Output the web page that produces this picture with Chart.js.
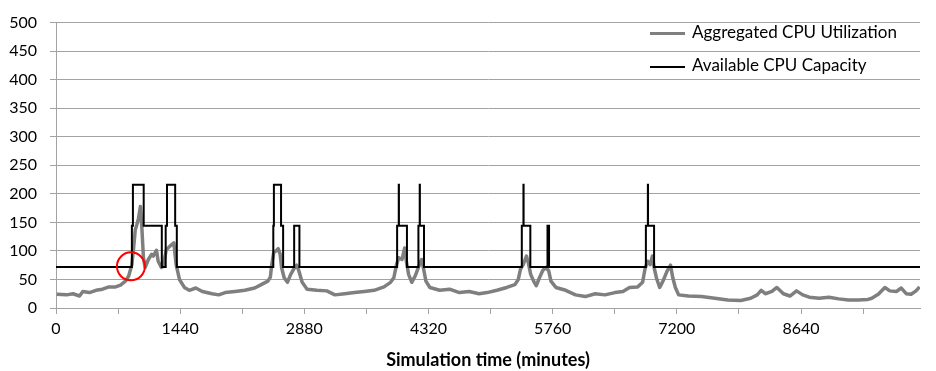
<!DOCTYPE html>
<html><head><meta charset="utf-8">
<script src="https://cdn.jsdelivr.net/npm/chart.js@4.4.1/dist/chart.umd.min.js"></script>
<style>
html,body{margin:0;padding:0;background:#fff;overflow:hidden;}
#wrap{position:relative;width:936px;height:371px;}
canvas{display:block;}
.lg{position:absolute;left:650px;font-family:Lato,sans-serif;font-size:17px;color:#000;white-space:nowrap;line-height:20px;}
.lg .sw{display:inline-block;width:35px;height:0;vertical-align:middle;margin-right:7px;}
</style></head><body>
<div id="wrap"><canvas id="c" width="936" height="371"></canvas></div>
<script>
// ---- data ----
const seriesNames = ['Aggregated CPU Utilization', 'Available CPU Capacity'];
const utilMinutes = [8,122,197,273,311,387,464,539,615,691,748,805,843,880,900,919,937,957,979,994,1014,1033,1071,1108,1128,1165,1185,1222,1241,1279,1318,1367,1393,1432,1489,1546,1621,1697,1811,1887,1962,2076,2190,2304,2380,2457,2486,2502,2525,2551,2577,2600,2616,2646,2684,2722,2760,2790,2817,2855,2912,3026,3140,3235,3349,3462,3576,3690,3804,3880,3918,3949,3975,4013,4043,4063,4089,4126,4165,4203,4240,4260,4290,4336,4450,4564,4678,4792,4906,5000,5114,5228,5322,5361,5387,5418,5456,5478,5505,5539,5569,5607,5646,5683,5714,5740,5797,5911,6025,6139,6253,6367,6481,6575,6651,6746,6803,6830,6860,6891,6917,6936,6963,7001,7039,7088,7127,7153,7183,7221,7335,7486,7639,7790,7942,8056,8132,8178,8227,8303,8360,8436,8512,8588,8660,8736,8850,8964,9078,9189,9303,9417,9461,9536,9613,9670,9746,9803,9860,9917,9974,10015];
const utilValues = [24,23,25,21,29,27,31,33,37,37,40,47,56,76,105,137,146,157,178,146,88,71,85,94,91,101,82,71,73,102,108,114,76,50,36,31,35,29,25,23,27,29,31,35,41,47,54,76,97,100,104,94,71,53,45,59,69,75,65,45,33,31,30,23,25,27,29,31,37,45,53,76,88,85,105,82,59,45,56,71,85,71,47,36,31,33,27,29,25,27,31,36,41,50,68,76,91,79,59,47,39,53,66,71,65,47,36,31,23,20,25,23,27,29,36,37,45,68,82,76,91,71,53,36,47,65,75,53,36,23,21,20,17,14,13,17,23,31,25,29,36,25,21,30,23,19,17,19,16,14,14,15,17,24,36,30,29,35,25,24,30,37];
const capMinutes = [0,880,892,1017,1227,1272,1287,1382,1401,2520,2527,2610,2634,2762,2823,3956,3975,3977,4070,4203,4218,4220,4268,5402,5421,5423,5501,5700,5718,6841,6864,6866,6936,10020];
const capValues  = [72,144,216,144,72,144,216,144,72,144,216,144,72,144,72,144,216,144,72,144,216,144,72,144,216,144,72,144,72,144,216,144,72,72];
const markMinutes = [869];
const markValues = [73];
const xTickValues = [0,720,1440,2160,2880,3600,4320,5040,5760,6480,7200,7920,8640,9360];
const xTickLabels = ['0','','1440','','2880','','4320','','5760','','7200','','8640',''];
const yTickValues = [0,50,100,150,200,250,300,350,400,450,500];
const xTitle = 'Simulation time (minutes)';

// ---- chart ----
const toXY = (xs, ys) => xs.map((x, i) => ({x: x, y: ys[i]}));
const gridCol = '#a3a3a3';
const fontFam = 'Lato, sans-serif';

new Chart(document.getElementById('c'), {
  type: 'line',
  data: {
    datasets: [
      {label: 'mark', data: toXY(markMinutes, markValues), showLine: false, pointRadius: 14,
       pointBorderColor: '#ff0000', pointBackgroundColor: 'rgba(0,0,0,0)', pointBorderWidth: 2, order: 0},
      {label: seriesNames[1], data: toXY(capMinutes, capValues), borderColor: '#000', borderWidth: 2,
       stepped: true, pointRadius: 0, fill: false, order: 1},
      {label: seriesNames[0], data: toXY(utilMinutes, utilValues), borderColor: '#7f7f7f', borderWidth: 3.5,
       pointRadius: 0, tension: 0, fill: false, order: 2, borderJoinStyle: 'round'}
    ]
  },
  options: {
    responsive: false, animation: false, devicePixelRatio: 1,
    layout: {padding: {top: 20, left: 0, right: 0, bottom: 0}},
    plugins: {legend: {display: false}, tooltip: {enabled: false}},
    scales: {
      x: {
        type: 'linear', min: 0, max: 10020,
        afterBuildTicks: s => { s.ticks = xTickValues.map(v => ({value: v})); },
        afterFit: s => { s.height = 63; },
        ticks: {autoSkip: false, maxRotation: 0, padding: 5, color: '#000',
                font: {family: fontFam, size: 16},
                callback: (v, i) => xTickLabels[i]},
        grid: {drawOnChartArea: false, drawTicks: true, tickLength: 6, color: gridCol},
        border: {display: true, color: gridCol, width: 1},
        title: {display: true, text: xTitle, color: '#000', font: {family: fontFam, size: 18, weight: 'bold'},
                padding: {top: 0, bottom: 0}}
      },
      y: {
        min: 0, max: 500,
        afterBuildTicks: s => { s.ticks = yTickValues.map(v => ({value: v})); },
        afterFit: s => { s.width = 56; },
        ticks: {padding: 13, color: '#000', font: {family: fontFam, size: 16}},
        grid: {color: gridCol, tickLength: 6, drawTicks: true},
        border: {display: true, color: gridCol, width: 1}
      }
    }
  }
});

// ---- HTML legend inside plot ----
const wrap = document.getElementById('wrap');
const lgStyles = [{top: 22, border: '3px solid #7f7f7f'}, {top: 55, border: '2px solid #000'}];
seriesNames.forEach((n, i) => {
  const d = document.createElement('div');
  d.className = 'lg';
  d.style.top = lgStyles[i].top + 'px';
  const sw = document.createElement('span');
  sw.className = 'sw';
  sw.style.borderTop = lgStyles[i].border;
  d.appendChild(sw);
  d.appendChild(document.createTextNode(n));
  wrap.appendChild(d);
});
</script>
</body></html>
